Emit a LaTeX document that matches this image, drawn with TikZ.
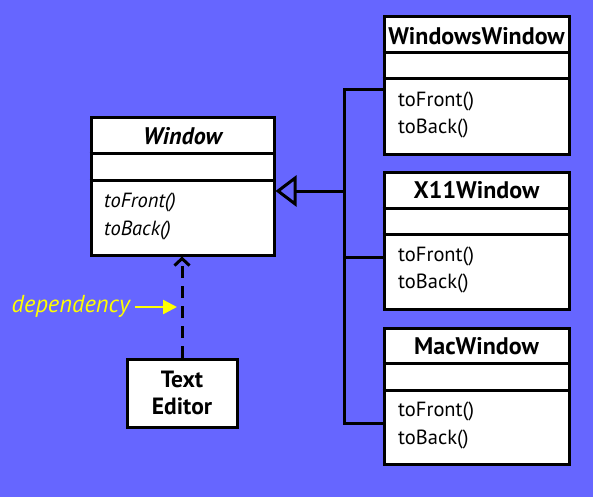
\documentclass[tikz,border=0pt]{standalone}
\usepackage{fontspec}
\setmainfont{PT Sans}
\usetikzlibrary{arrows.meta}
\definecolor{bg}{RGB}{102,102,255}
\definecolor{yel}{RGB}{255,255,0}
\begin{document}
\begin{tikzpicture}[x=1pt,y=-1pt,
  classbox/.style={draw=black, fill=white, line width=3pt, rectangle, inner sep=0pt},
  divider/.style={line width=3pt},
  title/.style={font=\fontsize{24}{27}\selectfont\bfseries, inner sep=0pt, anchor=center},
  op/.style={font=\fontsize{20.5}{24}\selectfont, inner sep=0pt, anchor=west},
  conn/.style={line width=3pt},
]
\fill[bg] (0,0) rectangle (593,497);
\useasboundingbox (0,0) rectangle (593,497);

% Window
\node[classbox, minimum width=183pt, minimum height=137pt] (win) at (182.5,186.5) {};
\draw[divider] (win.west |- 0,153) -- (win.east |- 0,153);
\draw[divider] (win.west |- 0,180) -- (win.east |- 0,180);
\node[title, font=\fontsize{24}{27}\selectfont\bfseries\itshape] (wint) at (182.5,136) {Window};
\node[op, font=\fontsize{20.5}{24}\selectfont\itshape] (wino1) at (104,202) {toFront()};
\node[op, font=\fontsize{20.5}{24}\selectfont\itshape] (wino2) at (104,230) {toBack()};

% WindowsWindow
\node[classbox, minimum width=185pt, minimum height=137pt] (ww) at (476.5,85.5) {};
\draw[divider] (ww.west |- 0,53) -- (ww.east |- 0,53);
\draw[divider] (ww.west |- 0,79) -- (ww.east |- 0,79);
\node[title] (wwt) at (476.5,36) {WindowsWindow};
\node[op] (wwo1) at (398,101) {toFront()};
\node[op] (wwo2) at (398,128) {toBack()};

% X11Window
\node[classbox, minimum width=185pt, minimum height=137pt] (x11) at (476.5,240.5) {};
\draw[divider] (x11.west |- 0,208) -- (x11.east |- 0,208);
\draw[divider] (x11.west |- 0,234) -- (x11.east |- 0,234);
\node[title] (x11t) at (476.5,190) {X11Window};
\node[op] (x11o1) at (398,256) {toFront()};
\node[op] (x11o2) at (398,283) {toBack()};

% MacWindow
\node[classbox, minimum width=185pt, minimum height=136pt] (mac) at (476.5,396) {};
\draw[divider] (mac.west |- 0,363) -- (mac.east |- 0,363);
\draw[divider] (mac.west |- 0,390) -- (mac.east |- 0,390);
\node[title] (mact) at (476.5,346) {MacWindow};
\node[op] (maco1) at (398,411) {toFront()};
\node[op] (maco2) at (398,439) {toBack()};

% Text Editor
\node[classbox, minimum width=110pt, minimum height=68pt, align=center,
      font=\fontsize{23.5}{27}\selectfont\bfseries] (te) at (182,393) {Text\\Editor};

% generalization
\coordinate (j) at (344,191);
\coordinate (jt) at (344,90);
\coordinate (jm) at (344,257);
\coordinate (jb) at (344,423);
\draw[conn, line join=miter] (ww.west |- jt) -- (jt) -- (jb) -- (mac.west |- jb);
\draw[conn] (jm) -- (x11.west |- jm);
\draw[conn, -{Triangle[open, length=21pt, width=31pt, line width=3pt]}] (j) -- (win.east |- j);

% dependency
\draw[conn, dash pattern=on 12pt off 8pt, -{Straight Barb[length=7pt, width=15pt, line width=3pt]}] (te.north) -- (te.north |- win.south);
\node[font=\fontsize{24.5}{27}\selectfont\itshape, text=yel, inner sep=0pt, anchor=east] (dep) at (130,306) {dependency};
\coordinate (depend) at (177,307);
\draw[line width=2.5pt, yel, -{Triangle[length=14pt, width=14pt]}] (dep.east) ++(5,1) coordinate (deps) -- (depend);
\end{tikzpicture}
\end{document}
